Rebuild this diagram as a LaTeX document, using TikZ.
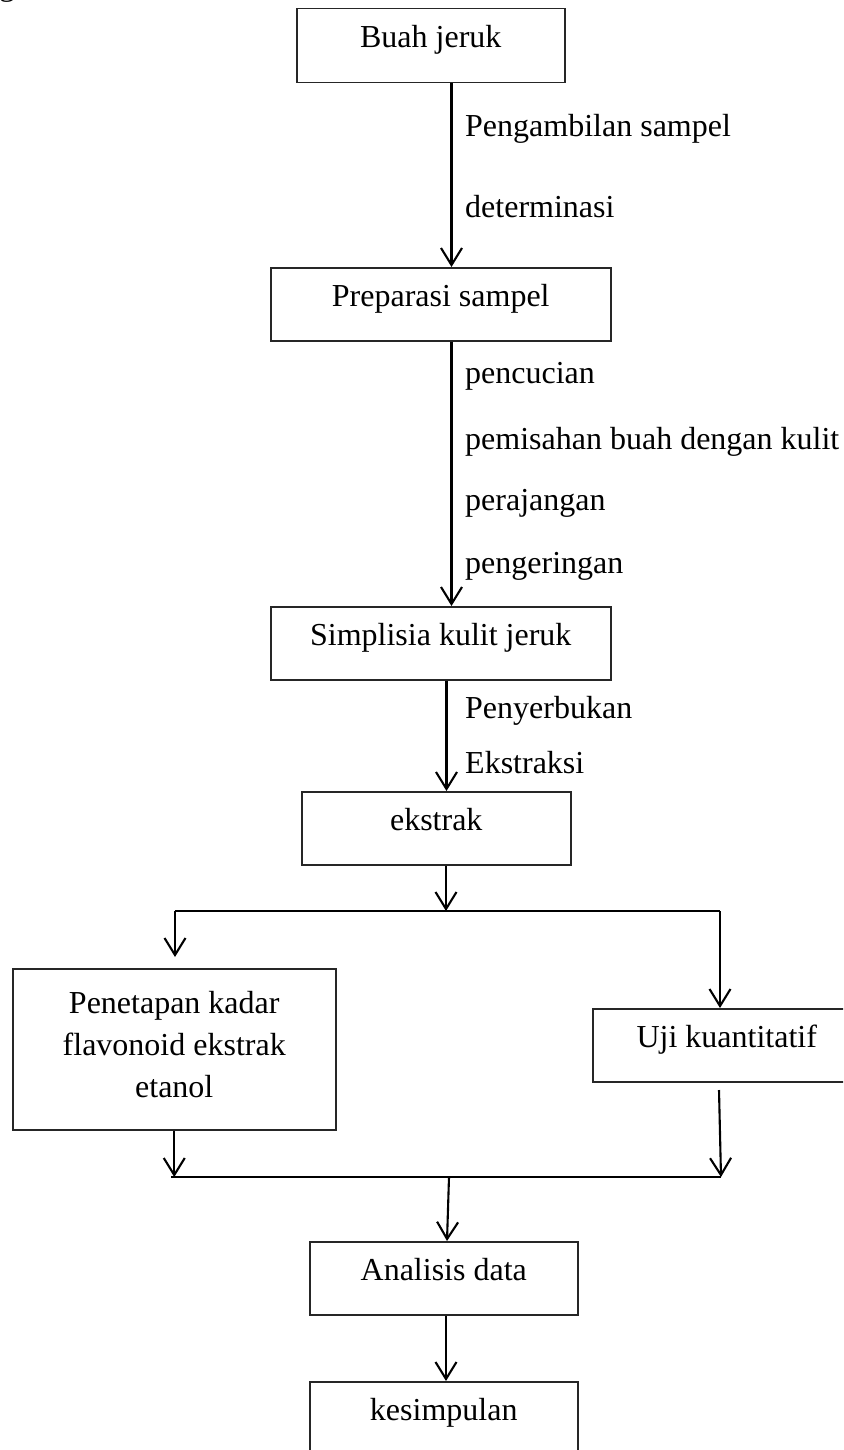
\documentclass[tikz,border=0pt]{standalone}
\usepackage{fontspec}
\setmainfont{Liberation Serif}
\usetikzlibrary{arrows.meta,calc}
\begin{document}
\begin{tikzpicture}[x=1pt,y=-1pt,
  every node/.style={font=\fontsize{32pt}{42pt}\selectfont},
  box/.style={draw=black!85, line width=1.5pt, anchor=north west, inner xsep=0pt, inner ysep=0pt, text height=39pt, text depth=34pt},
  lbl/.style={anchor=base west, inner sep=0pt},
  arr/.style={line width=2.1pt, -{Straight Barb[length=17pt,width=21pt]}},
  ln/.style={line width=2.1pt}]
\useasboundingbox (0,0) rectangle (843,1450);
\begin{scope}
\clip (0,0) rectangle (843,1450);
\node[lbl] (frag) at (-1,-4) {ga};
% boxes
\node[box, minimum width=268pt, text depth=35pt] (b1) at (296,8) {Buah jeruk};
\node[box, minimum width=340pt] (b2) at (270,267) {Preparasi sampel};
\node[box, minimum width=340pt] (b3) at (270,606) {Simplisia kulit jeruk};
\node[box, minimum width=269pt] (b4) at (301,791) {ekstrak};
\node[box, minimum width=323pt, align=center, text height=129pt, text depth=32pt] (b5) at (12,968) {Penetapan kadar\\flavonoid ekstrak\\etanol};
\node[box, minimum width=268pt] (b6) at (592,1008) {Uji kuantitatif};
\node[box, minimum width=268pt] (b7) at (309,1241) {Analisis data};
\node[box, minimum width=268pt, text depth=80pt] (b8) at (309,1381) {kesimpulan};
% labels
\node[lbl] (l1) at (465,136.5) {Pengambilan sampel};
\node[lbl] (l2) at (465,218) {determinasi};
\node[lbl] (l3) at (465,383.5) {pencucian};
\node[lbl] (l4) at (465,449.5) {pemisahan buah dengan kulit};
\node[lbl] (l5) at (465,510) {perajangan};
\node[lbl] (l6) at (465,573) {pengeringan};
\node[lbl] (l7) at (465,718) {Penyerbukan};
\node[lbl] (l8) at (465,773) {Ekstraksi};
% coordinates
\coordinate (x1) at (451.5,0);
\coordinate (x3) at (446.5,0);
\coordinate (j1) at (446,911);
\coordinate (jl) at (175,911);
\coordinate (jr) at (720,911);
\coordinate (tl) at (175,957);
\coordinate (kl) at (171,1177);
\coordinate (kr) at (721,1177);
\coordinate (km) at (449,1177);
\coordinate (ur) at (719,1090);
\coordinate (x7) at (447,0);
\coordinate (x8) at (446,0);
% connectors
\draw[arr] (b1.south -| x1) -- (b2.north -| x1);
\draw[arr] (b2.south -| x1) -- (b3.north -| x1);
\draw[arr] (b3.south -| x3) -- (b4.north -| x3);
\draw[arr] (b4.south -| j1) -- (j1);
\draw[ln] (jl) -- (jr);
\draw[arr] (jl) -- (tl);
\draw[arr] (jr) -- (b6.north -| jr);
\draw[arr] (b5.south) -- (b5.south |- kl);
\draw[arr] (ur) -- (kr);
\draw[ln] (kl) -- (kr);
\draw[arr] (km) -- (b7.north -| x7);
\draw[arr] (b7.south -| x8) -- (b8.north -| x8);
\end{scope}
\end{tikzpicture}
\end{document}
